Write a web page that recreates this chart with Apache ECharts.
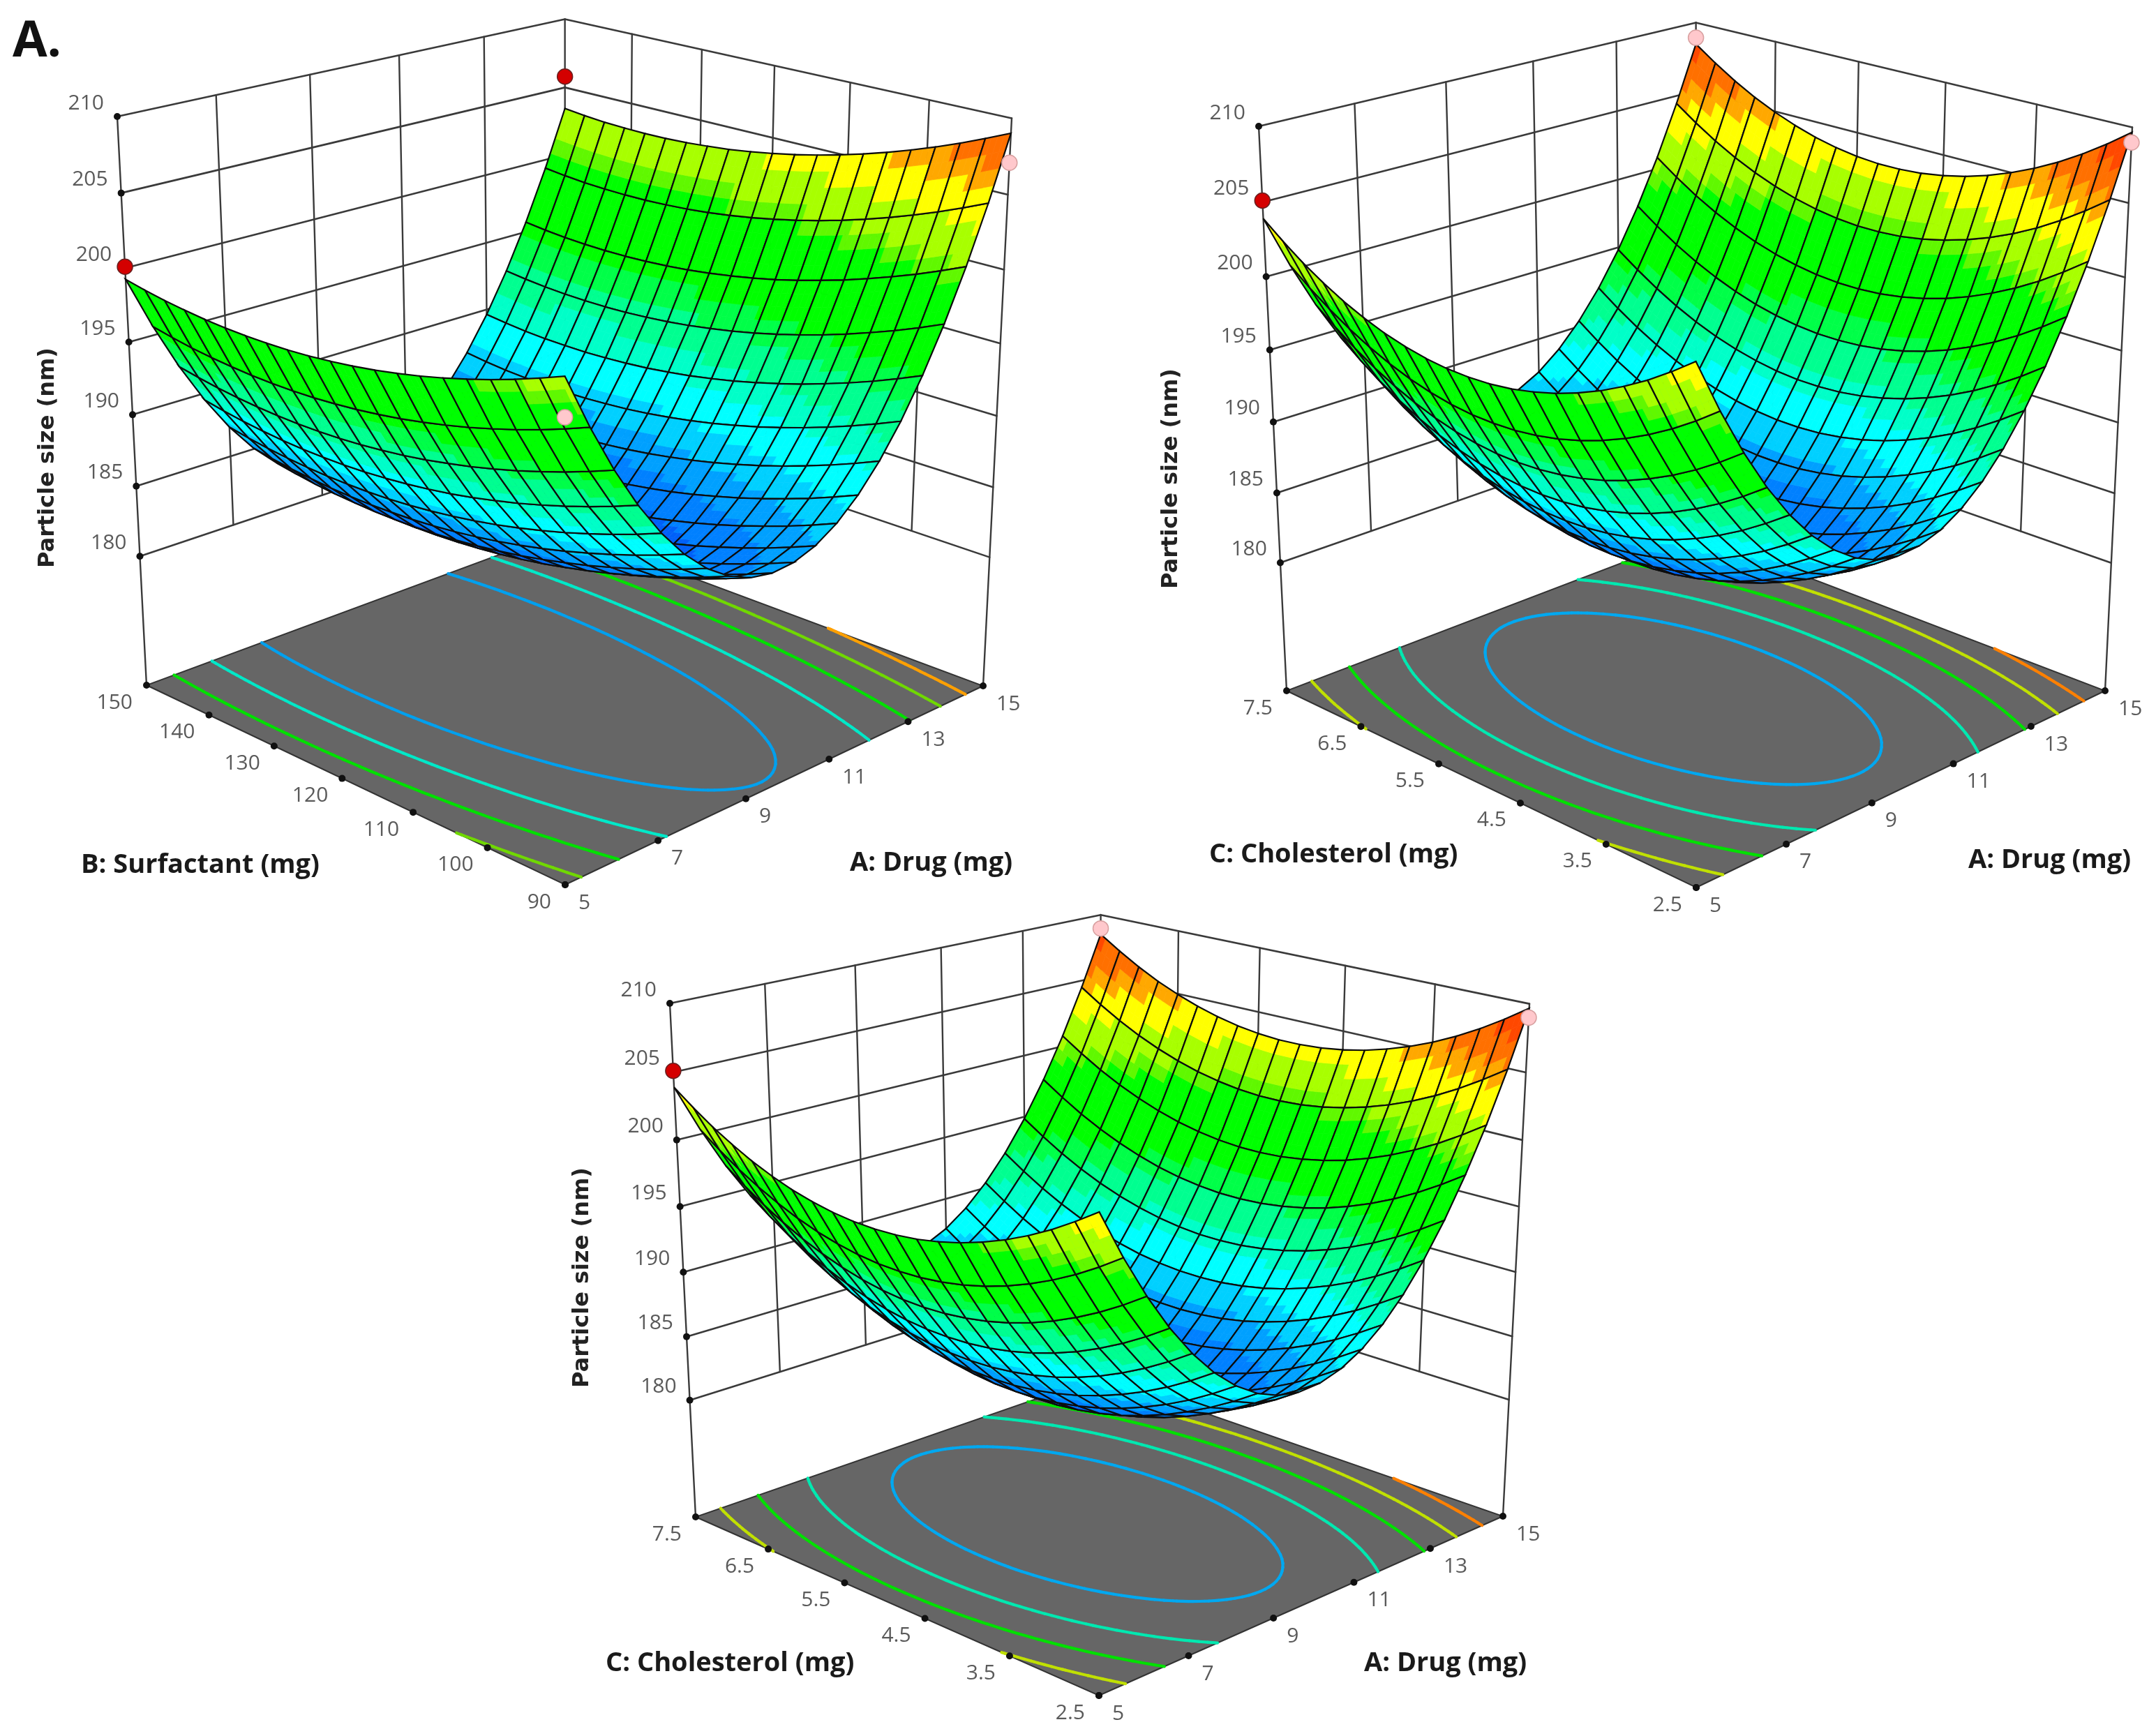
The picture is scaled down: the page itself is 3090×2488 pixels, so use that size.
<!DOCTYPE html>
<html>
<head>
<meta charset="utf-8">
<style>
  html, body { margin: 0; padding: 0; background: #fff; }
  #main { width: 3090px; height: 2488px; }
</style>
<script src="https://cdn.jsdelivr.net/npm/echarts@6/dist/echarts.min.js"></script>
</head>
<body>
<div id="main"></div>
<script>
const sizeTicks = [180, 185, 190, 195, 200, 205, 210];
const drugTicks = [5, 7, 9, 11, 13, 15];
const surfactantTicks = [90, 100, 110, 120, 130, 140, 150];
const cholesterolTicks = ["2.5", "3.5", "4.5", "5.5", "6.5", "7.5"];

// particle size, rows: surfactant 90 -> 150, columns: drug 5 -> 15
const sizeDrugSurfactant = [
  [202.43,198.90,195.78,193.07,190.76,188.86,187.36,186.27,185.58,185.30,185.43,185.96,186.90,188.25,190.00,192.16,194.72,197.69,201.06,204.84,209.03],
  [201.83,198.29,195.16,192.45,190.13,188.23,186.72,185.62,184.93,184.64,184.77,185.29,186.22,187.57,189.31,191.47,194.02,196.98,200.35,204.12,208.31],
  [201.27,197.72,194.59,191.87,189.55,187.64,186.12,185.02,184.32,184.03,184.15,184.66,185.59,186.93,188.67,190.82,193.36,196.32,199.68,203.45,207.63],
  [200.76,197.21,194.08,191.35,189.02,187.10,185.58,184.48,183.77,183.47,183.58,184.09,185.02,186.35,188.08,190.22,192.76,195.72,199.07,202.83,207.00],
  [200.30,196.75,193.60,190.87,188.53,186.61,185.09,183.97,183.26,182.95,183.06,183.57,184.48,185.81,187.53,189.67,192.21,195.15,198.50,202.25,206.42],
  [199.88,196.32,193.17,190.43,188.09,186.16,184.63,183.51,182.79,182.48,182.58,183.08,183.99,185.31,187.03,189.16,191.69,194.63,197.97,201.72,205.88],
  [199.51,195.95,192.79,190.05,187.70,185.76,184.23,183.10,182.38,182.06,182.15,182.65,183.55,184.87,186.58,188.70,191.23,194.16,197.50,201.24,205.39],
  [199.19,195.62,192.46,189.70,187.35,185.41,183.87,182.74,182.00,181.68,181.77,182.26,183.16,184.46,186.17,188.29,190.81,193.74,197.06,200.80,204.95],
  [198.91,195.33,192.16,189.40,187.05,185.10,183.55,182.41,181.67,181.35,181.43,181.91,182.80,184.10,185.81,187.92,190.43,193.35,196.67,200.41,204.55],
  [198.68,195.10,191.92,189.16,186.80,184.84,183.29,182.14,181.40,181.07,181.14,181.62,182.50,183.80,185.50,187.60,190.11,193.02,196.34,200.07,204.20],
  [198.50,194.91,191.73,188.96,186.59,184.63,183.07,181.92,181.17,180.83,180.90,181.37,182.25,183.54,185.23,187.33,189.83,192.74,196.05,199.77,203.90],
  [198.36,194.77,191.58,188.81,186.43,184.46,182.90,181.74,180.99,180.64,180.70,181.17,182.04,183.33,185.01,187.10,189.60,192.50,195.81,199.52,203.64],
  [198.27,194.67,191.48,188.70,186.31,184.34,182.77,181.61,180.85,180.49,180.55,181.01,181.88,183.16,184.83,186.92,189.41,192.31,195.61,199.31,203.43],
  [198.24,194.63,191.43,188.64,186.25,184.28,182.70,181.53,180.76,180.40,180.46,180.91,181.77,183.04,184.71,186.80,189.28,192.17,195.46,199.16,203.28],
  [198.24,194.63,191.42,188.63,186.24,184.25,182.67,181.49,180.72,180.36,180.40,180.85,181.70,182.97,184.64,186.71,189.19,192.07,195.36,199.06,203.16],
  [198.29,194.67,191.46,188.66,186.26,184.27,182.68,181.50,180.72,180.35,180.39,180.83,181.68,182.94,184.60,186.67,189.14,192.02,195.30,198.99,203.09],
  [198.39,194.77,191.55,188.74,186.34,184.34,182.75,181.56,180.77,180.40,180.43,180.87,181.71,182.96,184.62,186.68,189.15,192.02,195.29,198.98,203.07],
  [198.54,194.90,191.68,188.87,186.46,184.46,182.85,181.66,180.87,180.49,180.52,180.94,181.78,183.03,184.68,186.74,189.19,192.06,195.33,199.01,203.10],
  [198.72,195.08,191.86,189.04,186.62,184.61,183.00,181.81,181.01,180.62,180.64,181.06,181.90,183.14,184.78,186.83,189.28,192.15,195.41,199.08,203.16],
  [198.96,195.32,192.09,189.26,186.84,184.82,183.21,182.01,181.20,180.81,180.82,181.24,182.07,183.30,184.94,186.98,189.43,192.29,195.54,199.21,203.28],
  [199.25,195.60,192.36,189.53,187.10,185.08,183.46,182.25,181.44,181.04,181.05,181.46,182.28,183.51,185.14,187.18,189.62,192.47,195.72,199.38,203.45],
];

// rows: cholesterol 2.5 -> 7.5, columns: drug 5 -> 15 (both lower plots show the same surface)
const sizeDrugCholesterol = [
  [204.02,200.53,197.44,194.74,192.45,190.55,189.05,187.94,187.22,186.91,187.00,187.48,188.36,189.63,191.31,193.38,195.85,198.72,201.96,205.63,209.68],
  [202.91,199.41,196.32,193.62,191.33,189.42,187.92,186.80,186.09,185.77,185.86,186.33,187.21,188.49,190.16,192.23,194.69,197.56,200.80,204.47,208.51],
  [201.90,198.40,195.31,192.61,190.31,188.40,186.89,185.78,185.06,184.74,184.82,185.30,186.17,187.44,189.11,191.18,193.64,196.50,199.74,203.41,207.45],
  [201.02,197.52,194.42,191.72,189.42,187.51,186.00,184.88,184.16,183.84,183.92,184.39,185.25,186.52,188.19,190.25,192.71,195.57,198.81,202.47,206.51],
  [200.25,196.75,193.65,190.94,188.64,186.73,185.22,184.09,183.37,183.05,183.12,183.59,184.46,185.72,187.39,189.45,191.90,194.76,198.00,201.65,205.69],
  [199.61,196.10,192.99,190.29,187.98,186.07,184.55,183.42,182.70,182.37,182.45,182.91,183.77,185.04,186.70,188.76,191.21,194.06,197.30,200.95,204.99],
  [199.07,195.56,192.45,189.75,187.44,185.52,184.00,182.87,182.14,181.81,181.88,182.35,183.21,184.47,186.13,188.18,190.63,193.48,196.71,200.37,204.40],
  [198.66,195.14,192.03,189.32,187.01,185.09,183.57,182.43,181.70,181.37,181.44,181.90,182.76,184.01,185.67,187.72,190.17,193.02,196.25,199.90,203.92],
  [198.35,194.84,191.73,189.01,186.70,184.77,183.25,182.11,181.38,181.04,181.11,181.57,182.42,183.68,185.33,187.38,189.82,192.67,195.90,199.54,203.57],
  [198.17,194.65,191.54,188.82,186.50,184.57,183.05,181.91,181.17,180.83,180.90,181.35,182.20,183.46,185.11,187.15,189.59,192.44,195.66,199.30,203.33],
  [198.11,194.59,191.47,188.75,186.43,184.50,182.97,181.83,181.09,180.75,180.81,181.26,182.11,183.36,185.01,187.05,189.49,192.33,195.55,199.19,203.21],
  [198.16,194.63,191.51,188.79,186.47,184.53,183.00,181.86,181.11,180.77,180.83,181.28,182.12,183.37,185.02,187.06,189.49,192.33,195.55,199.18,203.20],
  [198.33,194.80,191.68,188.95,186.63,184.69,183.16,182.01,181.27,180.92,180.97,181.42,182.26,183.51,185.15,187.19,189.62,192.46,195.67,199.30,203.32],
  [198.62,195.09,191.96,189.23,186.91,184.97,183.43,182.28,181.53,181.18,181.24,181.68,182.52,183.76,185.40,187.43,189.87,192.70,195.91,199.54,203.55],
  [199.02,195.49,192.36,189.63,187.30,185.36,183.82,182.67,181.91,181.56,181.61,182.05,182.89,184.13,185.77,187.80,190.23,193.05,196.26,199.89,203.90],
  [199.55,196.01,192.88,190.14,187.81,185.87,184.32,183.17,182.41,182.06,182.11,182.54,183.38,184.61,186.25,188.28,190.70,193.53,196.73,200.36,204.37],
  [200.18,196.65,193.51,190.77,188.44,186.49,184.94,183.78,183.03,182.67,182.71,183.15,183.98,185.21,186.85,188.87,191.29,194.12,197.32,200.94,204.95],
  [200.94,197.40,194.26,191.52,189.18,187.23,185.68,184.52,183.76,183.40,183.44,183.87,184.70,185.93,187.56,189.58,192.00,194.82,198.02,201.64,205.64],
  [201.80,198.26,195.12,192.38,190.03,188.08,186.53,185.37,184.61,184.24,184.28,184.71,185.54,186.76,188.39,190.41,192.83,195.64,198.84,202.46,206.46],
  [202.80,199.25,196.11,193.36,191.02,189.06,187.51,186.34,185.58,185.21,185.25,185.67,186.50,187.72,189.35,191.36,193.78,196.59,199.79,203.40,207.40],
  [203.90,200.35,197.20,194.46,192.11,190.15,188.59,187.42,186.66,186.29,186.32,186.74,187.56,188.79,190.41,192.42,194.83,197.64,200.84,204.45,208.44],
];

// design points [u, v, size], u and v as 0/1 ends of each factor
const pointsAboveSurfactant = [[0, 1, 200.1], [1, 1, 205.8]];
const pointsBelowSurfactant = [[1, 0, 207.1], [0, 0, 200.0]];
const pointsAboveCholesterol = [[0, 1, 205.1]];
const pointsBelowCholesterol = [[1, 1, 208.9], [1, 0, 209.0]];

const contourLevels = [185, 190, 195, 200, 205];
const contourColorsTop = ["#00a0ee", "#00e8c8", "#00e000", "#70d800", "#ffa000"];
const contourColorsLow = ["#00a8f0", "#00e8b0", "#00e000", "#c0e000", "#ff8000"];

const bandLimits = [183, 184.5, 186, 187.5, 189.5, 191, 193, 194.5, 200, 201, 203.3, 205.5, 207, 209];
const bandColors = ["#0060f8", "#0080ff", "#00a0ff", "#00d0ff", "#00ffff", "#00ffc8", "#00ff90", "#00ff48", "#00ff00",
  "#60f800", "#a8ff00", "#ffff00", "#ffa800", "#ff7000", "#ff4800"];

const FLOOR_SIZE = 170.6;
const TOP_SIZE = 210;
const SUB = 4; // colour steps inside one mesh cell

function bandColor(z) {
  for (let i = 0; i < bandLimits.length; i++) {
    if (z < bandLimits[i]) return bandColors[i];
  }
  return bandColors[bandColors.length - 1];
}

// perspective box from its corners on screen
function makeView(c) {
  const dx1 = c.R[0] - c.B[0], dx2 = c.L[0] - c.B[0], sx = c.F[0] - c.R[0] + c.B[0] - c.L[0];
  const dy1 = c.R[1] - c.B[1], dy2 = c.L[1] - c.B[1], sy = c.F[1] - c.R[1] + c.B[1] - c.L[1];
  const den = dx1 * dy2 - dx2 * dy1;
  const g = (sx * dy2 - dx2 * sy) / den;
  const h = (dx1 * sy - sx * dy1) / den;
  const a = c.R[0] - c.F[0] + g * c.R[0], b = c.L[0] - c.F[0] + h * c.L[0];
  const d = c.R[1] - c.F[1] + g * c.R[1], e = c.L[1] - c.F[1] + h * c.L[1];
  const r = (c.RT[0] * (g + 1) - a - c.LT[0] * (h + 1) + b) / (c.LT[0] - c.RT[0]);
  const p = c.LT[0] * (h + 1 + r) - b - c.F[0];
  const q = c.LT[1] * (h + 1 + r) - e - c.F[1];
  return (u, v, size) => {
    const w = (size - FLOOR_SIZE) / (TOP_SIZE - FLOOR_SIZE);
    const depth = g * u + h * v + r * w + 1;
    return [(a * u + b * v + p * w + c.F[0]) / depth, (d * u + e * v + q * w + c.F[1]) / depth, depth];
  };
}

const panels = [
  {
    corners: { F: [810, 1268], R: [1409, 983], B: [810, 760], L: [210, 982], RT: [1450, 168], LT: [168, 167] },
    table: sizeDrugSurfactant, vTicks: surfactantTicks, contourColors: contourColorsTop, colorScale: 1,
    above: pointsAboveSurfactant, below: pointsBelowSurfactant,
    sizeTitle: [69, 656], vTitle: ["B: Surfactant (mg)", 116, 1240], uTitle: [1218, 1237],
  },
  {
    corners: { F: [2431, 1272], R: [3017, 990], B: [2431, 766], L: [1844, 990], RT: [3056, 181], LT: [1804, 181] },
    table: sizeDrugCholesterol, vTicks: cholesterolTicks, contourColors: contourColorsLow, colorScale: 1.05,
    above: pointsAboveCholesterol, below: pointsBelowCholesterol,
    sizeTitle: [1679, 686], vTitle: ["C: Cholesterol (mg)", 1733, 1225], uTitle: [2821, 1233],
  },
  {
    corners: { F: [1575, 2430], R: [2154, 2173], B: [1577, 1973], L: [997, 2174], RT: [2192, 1438], LT: [960, 1438] },
    table: sizeDrugCholesterol, vTicks: cholesterolTicks, contourColors: contourColorsLow, colorScale: 1.05,
    above: pointsAboveCholesterol, below: pointsBelowCholesterol,
    sizeTitle: [835, 1831], vTitle: ["C: Cholesterol (mg)", 868, 2384], uTitle: [1955, 2384],
  },
];
panels.forEach((pn) => { pn.view = makeView(pn.corners); });

function layer(items, draw) {
  return {
    type: "custom",
    coordinateSystem: "cartesian2d",
    silent: true,
    clip: false,
    progressive: 0,
    data: items.map((_, i) => [i, 0]),
    renderItem: (params, api) => draw(items[api.value(0)], api),
  };
}

function onScreen(api, view, u, v, size) {
  const s = view(u, v, size);
  return api.coord([s[0], s[1]]);
}

function drawLine(api, view, seg, color, width) {
  const a = onScreen(api, view, seg[0], seg[1], seg[2]);
  const b = onScreen(api, view, seg[3], seg[4], seg[5]);
  return {
    type: "line",
    shape: { x1: a[0], y1: a[1], x2: b[0], y2: b[1] },
    style: { stroke: color, lineWidth: width, lineCap: "round" },
  };
}

function textItem(api, x, y, text, font, fill, align, rotation) {
  const c = api.coord([x, y]);
  return {
    type: "text",
    x: c[0],
    y: c[1],
    rotation: rotation || 0,
    style: { text: String(text), font: font, fill: fill, align: align || "center", verticalAlign: "middle" },
  };
}

function wallsLayer(pn) {
  const wall = "#3a3a3a";
  const lines = [];
  sizeTicks.forEach((s) => {
    lines.push({ seg: [0, 1, s, 1, 1, s], color: wall, width: 2.6 });
    lines.push({ seg: [1, 1, s, 1, 0, s], color: wall, width: 2.6 });
  });
  drugTicks.forEach((t, i) => {
    const u = i / (drugTicks.length - 1);
    if (i > 0) lines.push({ seg: [u, 1, 180, u, 1, TOP_SIZE], color: wall, width: 2.4 });
  });
  pn.vTicks.forEach((t, i) => {
    const v = i / (pn.vTicks.length - 1);
    if (i > 0 && i < pn.vTicks.length - 1) lines.push({ seg: [1, v, 180, 1, v, TOP_SIZE], color: wall, width: 2.4 });
  });
  lines.push({ seg: [0, 1, FLOOR_SIZE, 0, 1, TOP_SIZE], color: wall, width: 2.4 });
  lines.push({ seg: [1, 0, FLOOR_SIZE, 1, 0, TOP_SIZE], color: wall, width: 2.4 });
  return layer(lines, (it, api) => drawLine(api, pn.view, it.seg, it.color, it.width));
}

function floorLayer(pn) {
  return layer([0], (it, api) => ({
    type: "polygon",
    shape: {
      points: [[0, 0], [1, 0], [1, 1], [0, 1]].map((q) => onScreen(api, pn.view, q[0], q[1], FLOOR_SIZE)),
    },
    style: { fill: "#666666", stroke: "#333", lineWidth: 2 },
  }));
}

// finer sampling of the table, only used to keep the contour lines round
function fineTable(table, steps) {
  const n = table.length - 1;
  const nodes = (t) => {
    const i = Math.min(n - 1, Math.max(1, Math.round(t)));
    const s = t - i;
    return [i, [s * (s - 1) / 2, 1 - s * s, s * (s + 1) / 2]];
  };
  const out = [];
  for (let y = 0; y <= n * steps; y++) {
    const [j, wy] = nodes(y / steps);
    const row = [];
    for (let x = 0; x <= n * steps; x++) {
      const [i, wx] = nodes(x / steps);
      let sum = 0;
      for (let m = 0; m < 3; m++) {
        for (let k = 0; k < 3; k++) sum += table[j - 1 + m][i - 1 + k] * wy[m] * wx[k];
      }
      row.push(sum);
    }
    out.push(row);
  }
  return out;
}

// one contour level as short segments, cell by cell
function contourSegments(table, level) {
  const n = table.length - 1;
  const segs = [];
  const cross = (a, b, za, zb) => {
    const f = (level - za) / (zb - za);
    return [a[0] + (b[0] - a[0]) * f, a[1] + (b[1] - a[1]) * f];
  };
  for (let j = 0; j < n; j++) {
    for (let i = 0; i < n; i++) {
      const c = [[i / n, j / n], [(i + 1) / n, j / n], [(i + 1) / n, (j + 1) / n], [i / n, (j + 1) / n]];
      const z = [table[j][i], table[j][i + 1], table[j + 1][i + 1], table[j + 1][i]];
      const hits = [];
      for (let k = 0; k < 4; k++) {
        const m = (k + 1) % 4;
        if ((z[k] < level) !== (z[m] < level)) hits.push(cross(c[k], c[m], z[k], z[m]));
      }
      if (hits.length >= 2) segs.push([hits[0], hits[1]]);
      if (hits.length === 4) segs.push([hits[2], hits[3]]);
    }
  }
  return segs;
}

function contourLayer(pn) {
  const fine = fineTable(pn.table, 4);
  const items = [];
  contourLevels.forEach((lvl, i) => {
    contourSegments(fine, lvl).forEach((s) => items.push({ s: s, color: pn.contourColors[i] }));
  });
  return layer(items, (it, api) =>
    drawLine(api, pn.view, [it.s[0][0], it.s[0][1], FLOOR_SIZE, it.s[1][0], it.s[1][1], FLOOR_SIZE], it.color, 4.2));
}

function surfaceLayer(pn) {
  const n = pn.table.length - 1;
  const cells = [];
  for (let j = 0; j < n; j++) {
    for (let i = 0; i < n; i++) {
      const mean = (pn.table[j][i] + pn.table[j][i + 1] + pn.table[j + 1][i] + pn.table[j + 1][i + 1]) / 4;
      cells.push({ i: i, j: j, depth: pn.view((i + 0.5) / n, (j + 0.5) / n, mean)[2] });
    }
  }
  cells.sort((a, b) => b.depth - a.depth); // far cells first

  return layer(cells, (cell, api) => {
    const { i, j } = cell;
    const z00 = pn.table[j][i], z10 = pn.table[j][i + 1], z01 = pn.table[j + 1][i], z11 = pn.table[j + 1][i + 1];
    const zAt = (s, t) => z00 * (1 - s) * (1 - t) + z10 * s * (1 - t) + z01 * (1 - s) * t + z11 * s * t;
    const ptAt = (s, t) => onScreen(api, pn.view, (i + s) / n, (j + t) / n, zAt(s, t));
    const children = [];
    for (let a = 0; a < SUB; a++) {
      for (let b = 0; b < SUB; b++) {
        const s0 = a / SUB, s1 = (a + 1) / SUB, t0 = b / SUB, t1 = (b + 1) / SUB;
        const color = bandColor(181 + (zAt((s0 + s1) / 2, (t0 + t1) / 2) - 181) * pn.colorScale);
        children.push({
          type: "polygon",
          shape: { points: [ptAt(s0, t0), ptAt(s1, t0), ptAt(s1, t1), ptAt(s0, t1)] },
          style: { fill: color, stroke: color, lineWidth: 0.7 },
        });
      }
    }
    children.push({
      type: "polygon",
      shape: { points: [ptAt(0, 0), ptAt(1, 0), ptAt(1, 1), ptAt(0, 1)] },
      style: { fill: "none", stroke: "#0c0c0c", lineWidth: 2.2 },
    });
    return { type: "group", children: children };
  });
}

function markersLayer(pn) {
  const dots = [];
  sizeTicks.forEach((s) => dots.push([0, 1, s]));
  drugTicks.forEach((t, i) => dots.push([i / (drugTicks.length - 1), 0, FLOOR_SIZE]));
  pn.vTicks.forEach((t, i) => dots.push([0, i / (pn.vTicks.length - 1), FLOOR_SIZE]));
  return layer(dots, (d, api) => {
    const c = onScreen(api, pn.view, d[0], d[1], d[2]);
    return { type: "circle", shape: { cx: c[0], cy: c[1], r: 5 }, style: { fill: "#111" } };
  });
}

function pointsLayer(pn) {
  const items = pn.above.map((p) => ({ p: p, fill: "#d40000", stroke: "#6a2020" }))
    .concat(pn.below.map((p) => ({ p: p, fill: "#ffc8cc", stroke: "#d8a0a0" })));
  return layer(items, (it, api) => {
    const c = onScreen(api, pn.view, it.p[0], it.p[1], it.p[2]);
    return { type: "circle", shape: { cx: c[0], cy: c[1], r: 11 }, style: { fill: it.fill, stroke: it.stroke, lineWidth: 1.5 } };
  });
}

function textLayer(pn) {
  const tickFont = '30px "Open Sans"';
  const titleFont = 'bold 38px "Open Sans"';
  const items = [];
  sizeTicks.forEach((s) => {
    const q = pn.view(0, 1, s);
    items.push([q[0] - 19, q[1] - 19, s, tickFont, "#5a5a5a", "right"]);
  });
  drugTicks.forEach((t, i) => {
    const q = pn.view(i / (drugTicks.length - 1), 0, FLOOR_SIZE);
    items.push([q[0] + 19, q[1] + 26, t, tickFont, "#5a5a5a", "left"]);
  });
  pn.vTicks.forEach((t, i) => {
    const q = pn.view(0, i / (pn.vTicks.length - 1), FLOOR_SIZE);
    items.push([q[0] - 20, q[1] + 25, t, tickFont, "#5a5a5a", "right"]);
  });
  items.push([pn.vTitle[1], pn.vTitle[2], pn.vTitle[0], titleFont, "#1a1a1a", "left"]);
  items.push([pn.uTitle[0], pn.uTitle[1], "A: Drug (mg)", titleFont, "#1a1a1a", "left"]);
  items.push([pn.sizeTitle[0], pn.sizeTitle[1], "Particle size (nm)", 'bold 32px "DejaVu Sans"', "#222", "center", Math.PI / 2]);
  return layer(items, (it, api) => textItem(api, it[0], it[1], it[2], it[3], it[4], it[5], it[6]));
}

const chart = echarts.init(document.getElementById("main"), null, { renderer: "canvas" });
const series = [];
panels.forEach((pn) => {
  series.push(wallsLayer(pn), floorLayer(pn), contourLayer(pn), surfaceLayer(pn), markersLayer(pn), pointsLayer(pn), textLayer(pn));
});
series.push(layer(["A."], (t, api) => textItem(api, 53, 60, t, 'bold 72px "Open Sans"', "#111")));

chart.setOption({
  animation: false,
  backgroundColor: "#fff",
  grid: { left: 0, right: 0, top: 0, bottom: 0 },
  xAxis: { type: "value", min: 0, max: 3090, show: false },
  yAxis: { type: "value", min: 0, max: 2488, inverse: true, show: false },
  series: series,
});
</script>
</body>
</html>
